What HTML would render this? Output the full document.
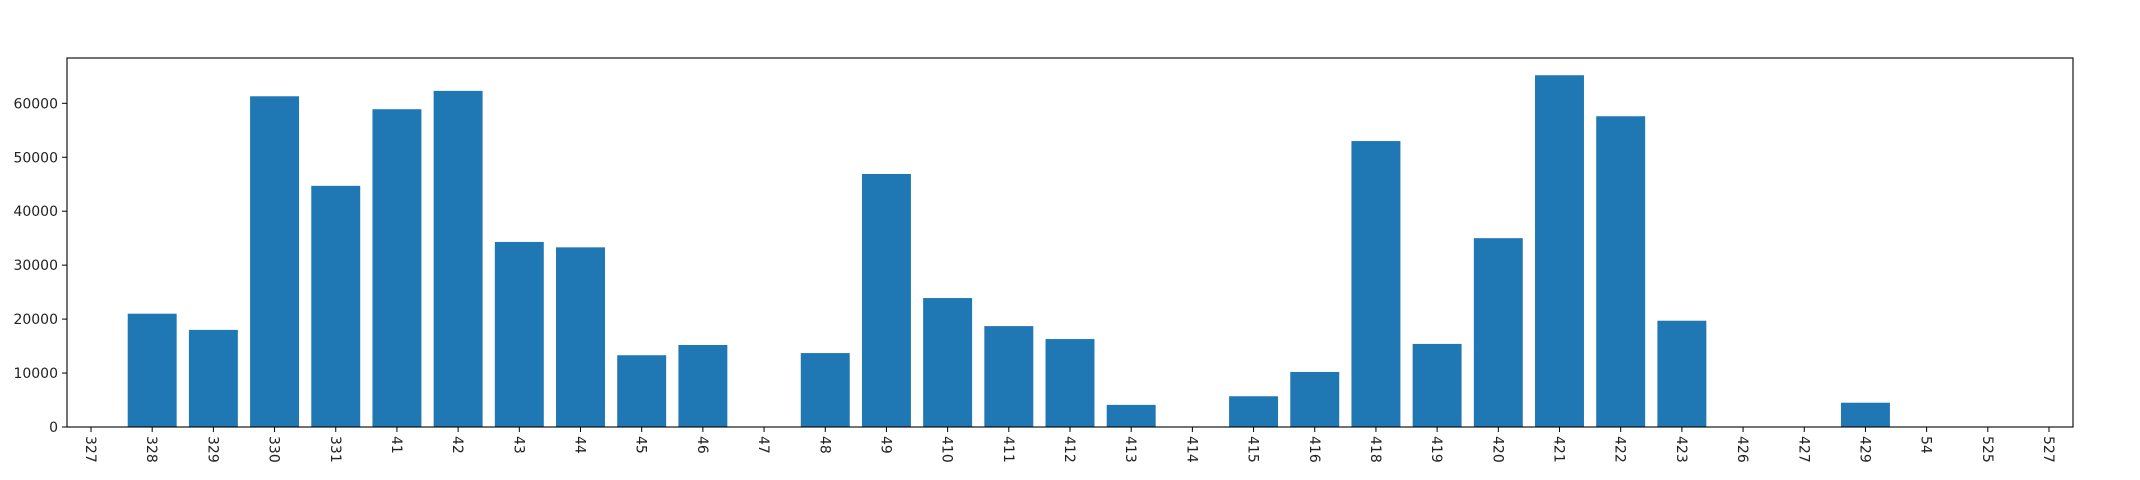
<!DOCTYPE html>
<html><head><meta charset="utf-8"><style>
body{margin:0;background:#fff;}
svg{display:block;font-family:"DejaVu Sans","Liberation Sans",sans-serif;}
</style></head><body>
<svg id="chart" width="2140" height="480" viewBox="0 0 2140 480" xmlns="http://www.w3.org/2000/svg"></svg>
<script>
const categories = ["327","328","329","330","331","41","42","43","44","45","46","47","48","49","410","411","412","413","414","415","416","418","419","420","421","422","423","426","427","429","54","525","527"];
const values = [0,21000,18000,61300,44700,58900,62300,34300,33300,13300,15200,0,13700,46900,23900,18700,16300,4100,0,5700,10200,53000,15400,35000,65200,57600,19700,0,0,4500,0,0,0];
const yTicks = [0,10000,20000,30000,40000,50000,60000];

const NS="http://www.w3.org/2000/svg";
const svg=document.getElementById('chart');
const L=67,R=2073,T=58,B=427;
const x0=91, step=(2049-91)/32;
function xs(i){return x0+i*step;}
function ys(v){return B-v*(B-103.3)/60000;}
function mk(tag,attrs){const e=document.createElementNS(NS,tag);for(const k in attrs)e.setAttribute(k,attrs[k]);svg.appendChild(e);return e;}

values.forEach((v,i)=>{
  const w=step*0.8;
  const r=mk('rect',{x:xs(i)-w/2,y:ys(v),width:w,height:B-ys(v),fill:'#1f77b4'});
  
  
});
const frame=mk('rect',{x:L,y:T,width:R-L,height:B-T,fill:'none',stroke:'#000','stroke-width':1.1});



yTicks.forEach(t=>{
  const y=ys(t);
  mk('line',{x1:L-5,x2:L,y1:y,y2:y,stroke:'#000','stroke-width':1});
  const tx=mk('text',{x:L-9,y:y+5,'text-anchor':'end','font-size':14,fill:'#222'});
  tx.textContent=t;
  
  
});
categories.forEach((c,i)=>{
  const x=xs(i);
  mk('line',{x1:x,x2:x,y1:B,y2:B+5,stroke:'#000','stroke-width':1});
  const tx=mk('text',{x:0,y:0,'font-size':14,fill:'#222',transform:`translate(${x-5},${B+9}) rotate(90)`});
  tx.textContent=c;
  
  
});
</script>
</body></html>
